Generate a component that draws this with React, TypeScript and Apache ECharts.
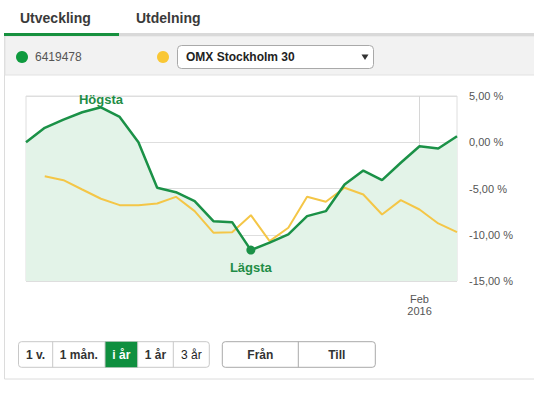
import React, { useEffect, useRef } from 'react';
import * as echarts from 'echarts';

const dates = [
  '2015-12-30', '2016-01-04', '2016-01-05', '2016-01-06', '2016-01-07', '2016-01-08',
  '2016-01-11', '2016-01-12', '2016-01-13', '2016-01-14', '2016-01-15', '2016-01-18',
  '2016-01-19', '2016-01-20', '2016-01-21', '2016-01-22', '2016-01-25', '2016-01-26',
  '2016-01-27', '2016-01-28', '2016-01-29', '2016-02-01', '2016-02-02', '2016-02-03',
];
const fundValues = [
  0, 1.56, 2.45, 3.24, 3.78, 2.74, 0, -4.92, -5.4, -6.37, -8.53, -8.64,
  -11.66, -10.86, -9.97, -7.99, -7.45, -4.57, -3.06, -4.1, -2.22, -0.43, -0.68, 0.65,
];
const omxValues = [
  null, -3.67, -4.1, -5.11, -6.11, -6.8, -6.8, -6.62, -5.9, -7.45, -9.78, -9.72,
  -7.88, -10.69, -9.24, -5.9, -6.44, -4.92, -5.65, -7.81, -6.26, -7.27, -8.78, -9.72,
];
const xTickLabels: Record<string, string> = { '2016-02-01': 'Feb\n2016' };
const yMin = -15;
const yMax = 5;
const yStep = 5;
const tabs = ['Utveckling', 'Utdelning'];
const fundName = '6419478';
const indexName = 'OMX Stockholm 30';
const periodButtons = ['1 v.', '1 mån.', 'i år', '1 år', '3 år'];
const rangeButtons = ['Från', 'Till'];

const FONT = '"Liberation Sans", Arial, sans-serif';
const GREEN = '#1b9147';
const YELLOW = '#f4c647';

export default function App() {
  const ref = useRef<HTMLDivElement>(null);
  useEffect(() => {
    if (!ref.current) return;
    const chart = echarts.init(ref.current, undefined, { renderer: 'svg' });

    const periodX = [18.5, 52.7, 105, 137.7, 173.3, 209.3];
    const rangeX = [222.3, 298.3, 375.3];
    const btnY = 341.7;
    const btnH = 25.6;
    const graphics: any[] = [
      // tabs
      { type: 'text', left: 20, top: 11, style: { text: tabs[0], font: `bold 14px ${FONT}`, fill: '#3a3a3a' } },
      { type: 'text', left: 136, top: 11, style: { text: tabs[1], font: `bold 14px ${FONT}`, fill: '#3a3a3a' } },
      { type: 'rect', shape: { x: 119, y: 33, width: 415, height: 3 }, style: { fill: '#d9d9d9' } },
      { type: 'rect', shape: { x: 4, y: 33, width: 115, height: 3 }, style: { fill: '#17913f' } },
      // panel
      { type: 'rect', z: -10, shape: { x: 4.5, y: 36, width: 540, height: 343 }, style: { fill: '#fff', stroke: '#dcdcdc', lineWidth: 1 } },
      { type: 'rect', z: -9, shape: { x: 5, y: 36, width: 540, height: 39 }, style: { fill: '#f2f2f2', stroke: '#e2e2e2', lineWidth: 1 } },
      // legend
      { type: 'circle', shape: { cx: 22, cy: 57, r: 6 }, style: { fill: '#0e9a3e' } },
      { type: 'text', left: 35, top: 51, style: { text: fundName, font: `12px ${FONT}`, fill: '#555' } },
      { type: 'circle', shape: { cx: 163, cy: 57, r: 6 }, style: { fill: '#f9c735' } },
      { type: 'rect', shape: { x: 177.5, y: 45.5, width: 196, height: 23, r: 4 }, style: { fill: '#fff', stroke: '#a9a9a9', lineWidth: 1 } },
      { type: 'text', left: 186, top: 51, style: { text: indexName, font: `bold 12px ${FONT}`, fill: '#222' } },
      { type: 'polygon', shape: { points: [[361.5, 54.5], [368.5, 54.5], [365, 60]] }, style: { fill: '#333' } },
    ];
    // period buttons
    graphics.push({ type: 'rect', shape: { x: periodX[0], y: btnY, width: periodX[5] - periodX[0], height: btnH, r: 3 }, style: { fill: '#fff', stroke: '#c8c8c8', lineWidth: 1 } });
    graphics.push({ type: 'rect', shape: { x: periodX[2], y: btnY, width: periodX[3] - periodX[2], height: btnH }, style: { fill: '#0f8f3f' } });
    for (let i = 1; i < 5; i++) {
      graphics.push({ type: 'line', shape: { x1: periodX[i], y1: btnY, x2: periodX[i], y2: btnY + btnH }, style: { stroke: '#c8c8c8', lineWidth: 1 } });
    }
    periodButtons.forEach((t, i) => {
      graphics.push({
        type: 'text', x: (periodX[i] + periodX[i + 1]) / 2, y: btnY + btnH / 2,
        style: { text: t, font: `${i === 4 ? 'normal' : 'bold'} 12px ${FONT}`, fill: i === 2 ? '#fff' : (i === 4 ? '#222' : '#333'), align: 'center', verticalAlign: 'middle' },
      });
    });
    graphics.push({ type: 'rect', shape: { x: rangeX[0], y: btnY, width: rangeX[2] - rangeX[0], height: btnH, r: 3 }, style: { fill: '#fff', stroke: '#a9a9a9', lineWidth: 1 } });
    graphics.push({ type: 'line', shape: { x1: rangeX[1], y1: btnY, x2: rangeX[1], y2: btnY + btnH }, style: { stroke: '#a9a9a9', lineWidth: 1 } });
    rangeButtons.forEach((t, i) => {
      graphics.push({
        type: 'text', x: (rangeX[i] + rangeX[i + 1]) / 2, y: btnY + btnH / 2,
        style: { text: t, font: `bold 12px ${FONT}`, fill: '#333', align: 'center', verticalAlign: 'middle' },
      });
    });

    chart.setOption({
      animation: false,
      textStyle: { fontFamily: FONT },
      grid: { left: 26, right: 77, top: 96, bottom: 117, show: true, borderColor: '#dedede', borderWidth: 1, backgroundColor: 'transparent' },
      xAxis: {
        type: 'category',
        data: dates,
        boundaryGap: false,
        axisLine: { show: false },
        axisTick: { show: false },
        axisLabel: {
          interval: (_i: number, v: string) => !!xTickLabels[v],
          formatter: (v: string) => xTickLabels[v] || '',
          color: '#555', fontSize: 11, lineHeight: 12, margin: 12,
        },
        splitLine: { show: true, interval: (_i: number, v: string) => !!xTickLabels[v], lineStyle: { color: '#d6d6d6', width: 1 } },
      },
      yAxis: {
        type: 'value',
        position: 'right',
        min: yMin,
        max: yMax,
        interval: yStep,
        axisLine: { show: false },
        axisTick: { show: false },
        axisLabel: {
          color: '#555', fontSize: 11, margin: 12,
          formatter: (v: number) => v.toFixed(2).replace('.', ',') + ' %',
        },
        splitLine: { lineStyle: { color: '#dedede', width: 1 } },
      },
      series: [
        {
          type: 'line', data: fundValues, showSymbol: false, silent: true,
          lineStyle: { width: 0 }, areaStyle: { color: '#e3f3e8', opacity: 1, origin: 'start' }, z: 1,
        },
        {
          type: 'line', data: omxValues, showSymbol: false, lineStyle: { color: YELLOW, width: 2 }, z: 2,
        },
        {
          type: 'line', data: fundValues, showSymbol: false, lineStyle: { color: GREEN, width: 2.5 }, z: 3,
          markPoint: {
            data: [
              {
                type: 'max', symbol: 'circle', symbolSize: 1,
                itemStyle: { color: 'rgba(0,0,0,0)' },
                label: { show: true, formatter: 'Högsta', position: 'inside', offset: [0, -8], color: '#1f8d46', fontWeight: 'bold', fontSize: 13, fontFamily: FONT },
              },
              {
                type: 'min', symbol: 'circle', symbolSize: 9,
                itemStyle: { color: GREEN },
                label: { show: true, formatter: 'Lägsta', position: 'inside', offset: [0, 17], color: '#1f8d46', fontWeight: 'bold', fontSize: 13, fontFamily: FONT },
              },
            ],
          },
        },
      ],
      graphic: graphics,
    });
    return () => chart.dispose();
  }, []);
  return <div ref={ref} style={{ position: 'fixed', left: 0, top: 0, width: 534, height: 398, background: '#fff' }} />;
}
